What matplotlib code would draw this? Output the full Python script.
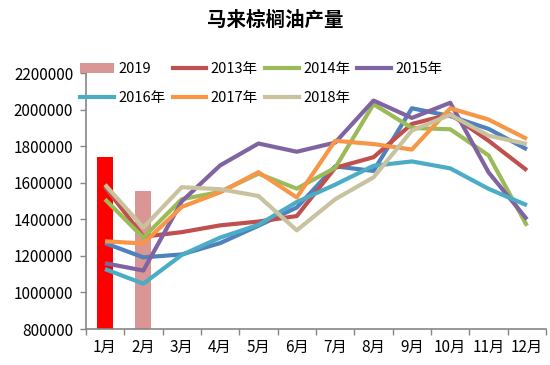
import numpy as np
import matplotlib
matplotlib.use("Agg")
import matplotlib.pyplot as plt
from matplotlib.patches import Patch
from matplotlib.lines import Line2D

plt.rcParams['font.family'] = ['Noto Sans CJK SC', 'DejaVu Sans']

# data
months = ['1月', '2月', '3月', '4月', '5月', '6月', '7月', '8月', '9月', '10月', '11月', '12月']
bar_2019 = [1740000, 1555000]

series_unnamed = [1270000, 1192000, 1208000, 1270000, 1365000, 1465000,
                  1690000, 1665000, 2008000, 1965000, 1895000, 1783000]
series_2013 = [1578000, 1305000, 1330000, 1367000, 1388000, 1418000,
               1682000, 1740000, 1922000, 1975000, 1830000, 1668000]
series_2014 = [1510000, 1300000, 1510000, 1550000, 1650000, 1568000,
               1682000, 2030000, 1900000, 1893000, 1750000, 1365000]
series_2015 = [1160000, 1120000, 1498000, 1695000, 1815000, 1770000,
               1820000, 2050000, 1955000, 2038000, 1657000, 1400000]
series_2016 = [1128000, 1048000, 1205000, 1300000, 1370000, 1495000,
               1590000, 1693000, 1717000, 1679000, 1567000, 1477000]
series_2017 = [1280000, 1268000, 1468000, 1548000, 1658000, 1520000,
               1830000, 1812000, 1782000, 2008000, 1946000, 1840000]
series_2018 = [1590000, 1355000, 1576000, 1565000, 1528000, 1340000,
               1510000, 1630000, 1886000, 1972000, 1858000, 1812000]

DARK_BLUE = '#4F81BD'
RED = '#C0504D'
GREEN = '#9BBB59'
PURPLE = '#8064A2'
AQUA = '#4BACC6'
ORANGE = '#F79646'
BEIGE = '#C9C29E'
PINK = '#D99694'
BRIGHT_RED = '#FF0000'
AXIS_GREY = '#868686'

x = np.arange(len(months))

fig = plt.figure(figsize=(5.5, 3.65), dpi=100)
ax = fig.add_axes([0.156, 0.0986, 0.837, 0.701])

bar_colors = [BRIGHT_RED, PINK]
ax.bar(x[:len(bar_2019)], bar_2019, width=0.42, color=bar_colors, zorder=1)

lines = [
    (series_unnamed, DARK_BLUE),
    (series_2013, RED),
    (series_2014, GREEN),
    (series_2015, PURPLE),
    (series_2016, AQUA),
    (series_2017, ORANGE),
    (series_2018, BEIGE),
]
for vals, col in lines:
    ax.plot(x, vals, color=col, lw=3, solid_capstyle='butt', zorder=2)

ax.set_xlim(-0.5, len(months) - 0.5)
ax.set_ylim(800000, 2200000)
ax.set_yticks(np.arange(800000, 2200001, 200000))
ax.set_yticklabels([str(v) for v in range(800000, 2200001, 200000)], fontsize=11)
ax.set_xticks(x)
ax.set_xticklabels(months, fontsize=11)
ax.set_xticks(np.arange(-0.5, len(months)), minor=True)
ax.tick_params(axis='x', which='major', length=0, pad=7)
ax.tick_params(axis='x', which='minor', length=4, color=AXIS_GREY, width=1)
ax.tick_params(axis='y', length=4, color=AXIS_GREY, width=1, pad=5)

for side in ['top', 'right']:
    ax.spines[side].set_visible(False)
for side in ['left', 'bottom']:
    ax.spines[side].set_color(AXIS_GREY)
    ax.spines[side].set_linewidth(1.2)

fig.text(0.5, 0.945, '马来棕榈油产量', ha='center', va='center',
         fontsize=14, fontweight='bold')

# legend laid out row-wise: 4 columns, filled column by column
h = {
    '2019': Patch(facecolor=PINK, edgecolor='none'),
    '2013年': Line2D([], [], color=RED, lw=3),
    '2014年': Line2D([], [], color=GREEN, lw=3),
    '2015年': Line2D([], [], color=PURPLE, lw=3),
    '2016年': Line2D([], [], color=AQUA, lw=3),
    '2017年': Line2D([], [], color=ORANGE, lw=3),
    '2018年': Line2D([], [], color=BEIGE, lw=3),
}
order = ['2019', '2016年', '2013年', '2017年', '2014年', '2018年', '2015年']
ax.legend([h[k] for k in order], order, ncol=4, frameon=False,
          loc='upper left', bbox_to_anchor=(-0.025, 1.065),
          fontsize=10.5, handlelength=2.3, handletextpad=0.3,
          columnspacing=0.5, labelspacing=1.0, borderaxespad=0)

fig.savefig('out.png', dpi=100)
